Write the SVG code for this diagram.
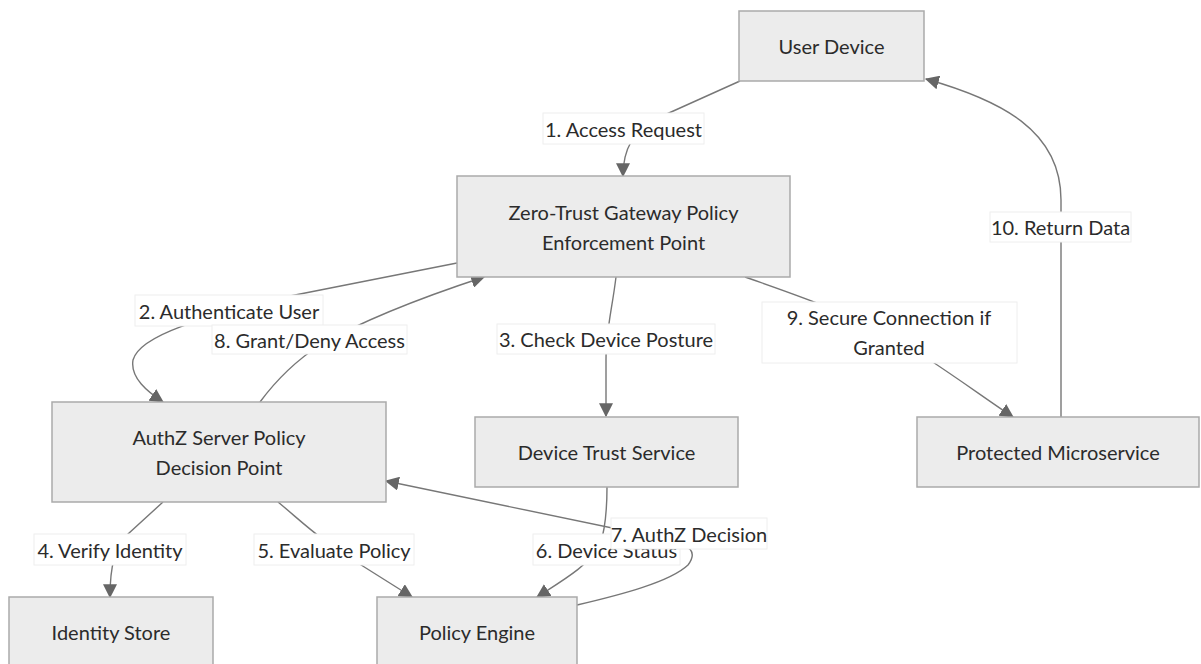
<svg xmlns="http://www.w3.org/2000/svg" width="1201" height="664" viewBox="0 0 1201 664">
<style>
.node rect{fill:#ececec;stroke:#aaaaaa;stroke-width:1.5}
text{font-family:Lato,"Open Sans",sans-serif;font-size:20px;fill:#2b2b2b;text-anchor:middle;dominant-baseline:central}
.edge path{fill:none;stroke:#777777;stroke-width:1.4}
.lbl rect{fill:#ffffff;stroke:#eeeeee;stroke-width:1}
</style>
<defs>
<marker id="arr" markerUnits="userSpaceOnUse" markerWidth="14" markerHeight="14" viewBox="0 0 12 12" refX="11" refY="6" orient="auto">
<path d="M0,0 L12,6 L0,12 z" fill="#666666"/>
</marker>
</defs>
<rect width="1201" height="664" fill="#ffffff"/>
<g id="edges" class="edge">
<path d="M740,81 L660,117 C632,131 623,150 623,176" marker-end="url(#arr)"/>
<path d="M457,263 L290,296 C200,318 140,335 133,360 C130,378 148,392 163,402" marker-end="url(#arr)"/>
<path d="M616,277 C612,310 606,330 606,360 L606,416" marker-end="url(#arr)"/>
<path d="M163,502 L128,534 C115,548 110,565 110,597" marker-end="url(#arr)"/>
<path d="M278,502 C300,520 320,540 350,558 L412,597" marker-end="url(#arr)"/>
<path d="M607,487 C607,510 605,530 600,545 C590,565 560,582 537,597" marker-end="url(#arr)"/>
<path d="M577,605 C620,595 670,582 688,565 C698,552 690,545 670,540 L386,481" marker-end="url(#arr)"/>
<path d="M260,402 C280,375 300,358 320,345 C360,322 420,298 484,277" marker-end="url(#arr)"/>
<path d="M745,277 C800,296 860,318 890,335 C930,358 980,395 1013,417" marker-end="url(#arr)"/>
<path d="M1061,417 L1061,200 C1061,130 1000,100 926,79" marker-end="url(#arr)"/>
</g>
<g id="n-user" class="node"><rect x="739" y="11" width="185" height="70"/><text x="831.5" y="46">User Device</text></g>
<g id="n-gateway" class="node"><rect x="457" y="176" width="333" height="101"/><text x="623.5" y="212">Zero-Trust Gateway Policy</text><text x="623.5" y="242">Enforcement Point</text></g>
<g id="n-authz" class="node"><rect x="52" y="402" width="334" height="100"/><text x="219" y="437">AuthZ Server Policy</text><text x="219" y="467">Decision Point</text></g>
<g id="n-device" class="node"><rect x="475" y="417" width="263" height="70"/><text x="606.5" y="452">Device Trust Service</text></g>
<g id="n-protected" class="node"><rect x="917" y="417" width="282" height="70"/><text x="1058" y="452">Protected Microservice</text></g>
<g id="n-identity" class="node"><rect x="9" y="597" width="204" height="70"/><text x="111" y="632">Identity Store</text></g>
<g id="n-policy" class="node"><rect x="377" y="597" width="200" height="70"/><text x="477" y="632">Policy Engine</text></g>
<g id="labels" class="lbl">
<g><rect x="543" y="113" width="161" height="31"/><text x="623.5" y="128.5">1. Access Request</text></g>
<g><rect x="135" y="295" width="188" height="31"/><text x="229" y="310.5">2. Authenticate User</text></g>
<g><rect x="497" y="324" width="218" height="30"/><text x="606" y="339">3. Check Device Posture</text></g>
<g><rect x="34" y="534" width="152" height="31"/><text x="110" y="549.5">4. Verify Identity</text></g>
<g><rect x="254" y="534" width="160" height="31"/><text x="334" y="549.5">5. Evaluate Policy</text></g>
<g><rect x="533" y="534" width="147" height="31"/><text x="606.5" y="549.5">6. Device Status</text></g>
<g><rect x="611" y="518" width="156" height="31"/><text x="689" y="533.5">7. AuthZ Decision</text></g>
<g><rect x="212" y="325" width="195" height="29"/><text x="309.5" y="339.5">8. Grant/Deny Access</text></g>
<g><rect x="762" y="302" width="255" height="61"/><text x="889" y="317">9. Secure Connection if</text><text x="889" y="347">Granted</text></g>
<g><rect x="990" y="212" width="141" height="30"/><text x="1060.5" y="227">10. Return Data</text></g>
</g>
</svg>
